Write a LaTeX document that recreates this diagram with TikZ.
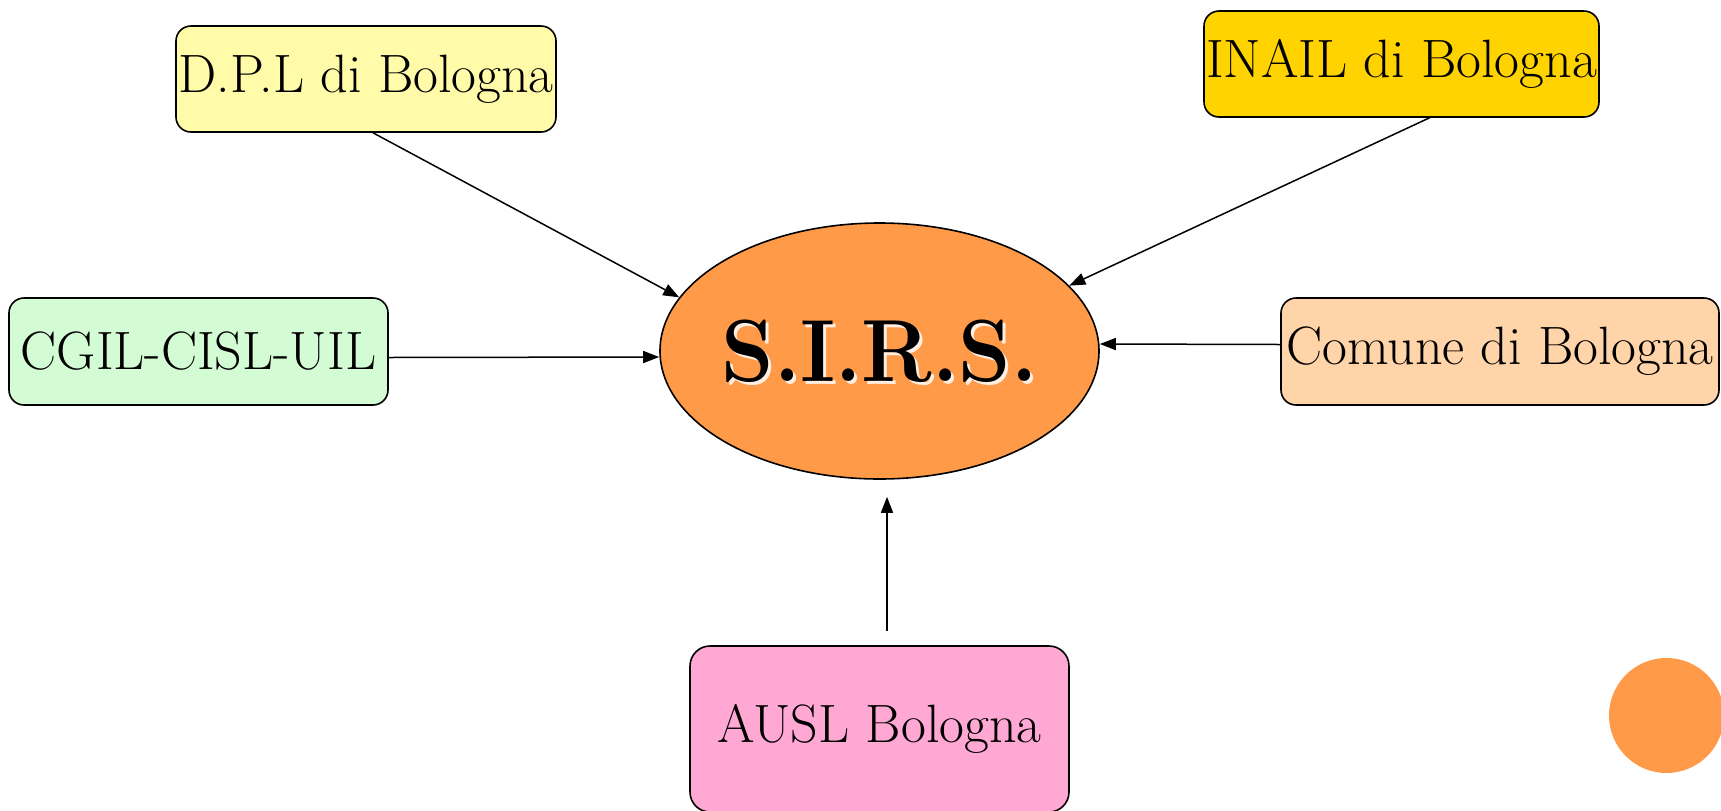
\documentclass[tikz,border=0pt]{standalone}
\usetikzlibrary{shapes.geometric,arrows.meta}
\definecolor{cdpl}{HTML}{FFFBA8}
\definecolor{cinail}{HTML}{FFD300}
\definecolor{cgilc}{HTML}{D4FCD4}
\definecolor{ccomune}{HTML}{FFD4A8}
\definecolor{causl}{HTML}{FFA8D4}
\definecolor{corange}{HTML}{FF9A48}
\newcommand{\boxfont}{\fontsize{27}{32}\selectfont}
\newcommand{\sirstext}{\raisebox{-2pt}{\scalebox{1}[1.05]{\fontsize{42}{48}\selectfont\bfseries S.I.R.S.}}}
\begin{document}
\begin{tikzpicture}[x=0.5pt,y=-0.5pt,
  ent/.style={draw=black,line width=0.8pt,rounded corners=7.5pt,inner sep=0pt,font=\boxfont,align=center},
  hub/.style={ellipse,draw=black,line width=0.8pt,fill=corange,inner sep=0pt,
     minimum width=219.5pt,minimum height=128pt,
     path picture={
       \node[text=white,opacity=0.85] at ([shift={(1.5pt,-1.5pt)}]path picture bounding box.center) {\makebox[0pt]{\sirstext}};}},
  arr/.style={line width=0.75pt,-{Triangle[length=8pt,width=6pt]}}]
\useasboundingbox (0,0) rectangle (1721,810);
\node[hub] (sirs) at (879.5,351) {\makebox[0pt]{\sirstext}};
\node[ent,fill=cdpl,minimum width=190pt,minimum height=53pt] (dpl) at (366,79) {D.P.L di Bologna};
\node[ent,fill=cinail,minimum width=197.5pt,minimum height=53pt] (inail) at (1401.5,64) {INAIL di Bologna};
\node[ent,fill=cgilc,minimum width=189.5pt,minimum height=53.5pt] (cgil) at (198.5,351.5) {CGIL-CISL-UIL};
\node[ent,fill=ccomune,minimum width=219pt,minimum height=53.5pt] (comune) at (1500,351.5) {Comune di Bologna};
\node[ent,fill=causl,rounded corners=10pt,minimum width=189.5pt,minimum height=83pt] (ausl) at (879.5,729) {AUSL Bologna};
\node[circle,fill=corange,inner sep=0pt,minimum size=57.5pt] (dot) at (1666.5,715.5) {};
\draw[arr] ([xshift=3.5pt]dpl.south) -- (sirs.165.5);
\draw[arr] ([xshift=14pt]inail.south) -- (sirs.19.8);
\draw[arr] ([yshift=-3pt]cgil.east) -- ([yshift=-3pt]sirs.west);
\draw[arr] ([yshift=3.5pt]comune.west) -- ([yshift=3.5pt]sirs.east);
\draw[arr] ([xshift=3.75pt,yshift=7pt]ausl.north) -- ([xshift=3.75pt,yshift=-8.5pt]sirs.south);
\end{tikzpicture}
\end{document}
